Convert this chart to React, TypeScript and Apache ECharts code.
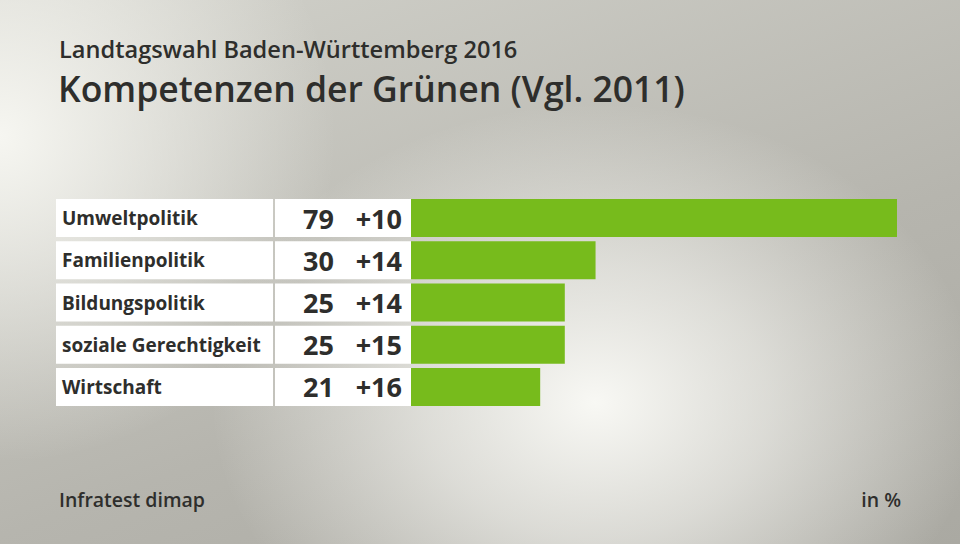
import React, { useEffect, useRef } from "react";
import * as echarts from "echarts";

const categories = ["Umweltpolitik", "Familienpolitik", "Bildungspolitik", "soziale Gerechtigkeit", "Wirtschaft"];
const values = [79, 30, 25, 25, 21];
const changes = ["+10", "+14", "+14", "+15", "+16"];

const FONT = "'Open Sans', 'Noto Sans', sans-serif";
const TEXT = "#2e2e2c";

export default function App() {
  const ref = useRef<HTMLDivElement>(null);
  useEffect(() => {
    if (!ref.current) return;
    const chart = echarts.init(ref.current, undefined, { renderer: "svg" });
    chart.setOption({
      animation: false,
      backgroundColor: "transparent",
      title: [
        { text: "Landtagswahl Baden-Württemberg 2016", left: 54, top: 32, textStyle: { fontFamily: FONT, fontWeight: 600, fontSize: 23.6, color: TEXT } },
        { text: "Kompetenzen der Grünen (Vgl. 2011)", left: 53, top: 65, textStyle: { fontFamily: FONT, fontWeight: 600, fontSize: 35.5, color: TEXT } },
        { text: "Infratest dimap", left: 54, top: 484, textStyle: { fontFamily: FONT, fontWeight: 600, fontSize: 19.5, color: TEXT } },
        { text: "in %", right: 54, top: 484, textStyle: { fontFamily: FONT, fontWeight: 600, fontSize: 19.5, color: TEXT } },
      ],
      grid: { left: 411, right: 63, top: 197, bottom: 136 },
      xAxis: { type: "value", min: 0, max: 79, show: false },
      yAxis: {
        type: "category",
        data: categories,
        inverse: true,
        z: 5,
        axisLine: { show: false },
        axisTick: { show: false },
        splitLine: { show: false },
        axisLabel: {
          margin: 349,
          align: "left",
          fontFamily: FONT,
          fontWeight: 700,
          fontSize: 19,
          color: TEXT,
        },
      },
      series: [
        {
          type: "custom",
          z: 1,
          silent: true,
          data: categories.map((c, i) => [i]),
          encode: { y: 0 },
          renderItem: (params: any, api: any) => {
            const idx = api.value(0);
            const c = api.coord([0, idx]);
            const h = 38;
            return {
              type: "group",
              children: [
                { type: "rect", shape: { x: c[0] - 355, y: c[1] - h / 2, width: 217, height: h }, style: { fill: "#ffffff" } },
                { type: "rect", shape: { x: c[0] - 136, y: c[1] - h / 2, width: 136, height: h }, style: { fill: "#ffffff" } },
              ],
            };
          },
        },
        {
          type: "bar",
          z: 2,
          data: values,
          barWidth: 38,
          itemStyle: { color: "#77bb1c" },
          label: {
            show: true,
            position: [-9, 19],
            align: "right",
            verticalAlign: "middle",
            formatter: (p: any) => `{v|${p.value}}{d|${changes[p.dataIndex]}}`,
            rich: {
              v: { fontFamily: FONT, fontWeight: 700, fontSize: 27, color: TEXT, width: 50, align: "right" },
              d: { fontFamily: FONT, fontWeight: 700, fontSize: 27, color: TEXT, width: 68, align: "right" },
            },
          },
        },
      ],
    });
    return () => chart.dispose();
  }, []);
  return (
    <div
      style={{
        position: "fixed",
        left: 0,
        top: 0,
        width: 960,
        height: 544,
        background:
          "radial-gradient(ellipse 40% 55% at 62% 74%, rgba(248,248,244,1) 0%, rgba(248,248,244,0.6) 45%, rgba(248,248,244,0) 100%), radial-gradient(ellipse 35% 60% at 0% 25%, rgba(246,246,241,1) 0%, rgba(246,246,241,0) 100%), linear-gradient(160deg, #d2d2cb 0%, #b6b5ae 60%, #aaa9a2 100%)",
      }}
    >
      <div ref={ref} style={{ width: 960, height: 544 }} />
    </div>
  );
}
